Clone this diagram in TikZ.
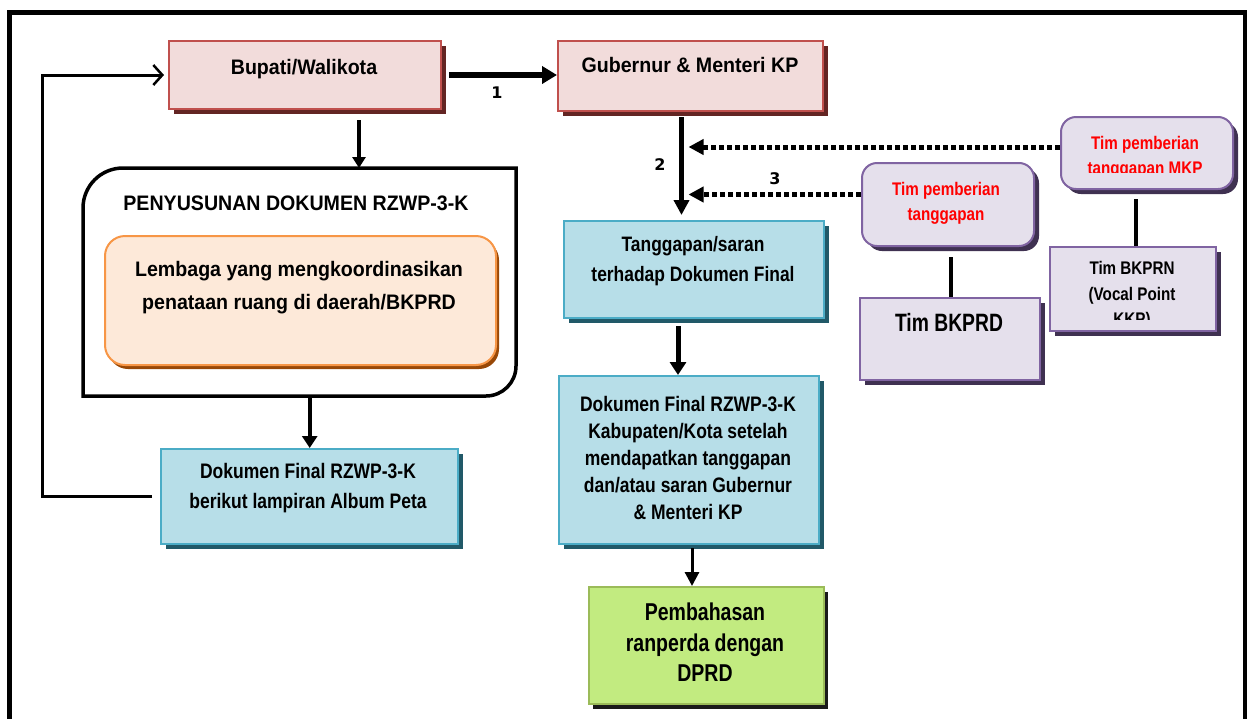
\documentclass[tikz,border=0pt]{standalone}
\usepackage{fontspec}
\setmainfont{Liberation Sans}
\newfontfamily\numfont{DejaVu Sans}
\usepackage{graphicx}
\usetikzlibrary{shadows,arrows.meta}
\definecolor{pinkF}{HTML}{F2DCDB}
\definecolor{pinkD}{HTML}{C0504D}
\definecolor{pinkS}{HTML}{632523}
\definecolor{cyanF}{HTML}{B7DEE8}
\definecolor{cyanD}{HTML}{4BACC6}
\definecolor{cyanS}{HTML}{215968}
\definecolor{oraF}{HTML}{FDE9D9}
\definecolor{oraD}{HTML}{F79646}
\definecolor{oraS}{HTML}{984807}
\definecolor{purF}{HTML}{E5E0EC}
\definecolor{purD}{HTML}{8064A2}
\definecolor{purS}{HTML}{3F3151}
\definecolor{grnF}{HTML}{C2EB80}
\definecolor{grnD}{HTML}{9BBB59}
\definecolor{grnS}{HTML}{1A1A1A}
\definecolor{redT}{HTML}{FF0000}
\newcommand\vtxt[4]{{\fontsize{#1}{#2}\selectfont\bfseries\scalebox{1}[#3]{\begin{tabular}{@{}c@{}}#4\end{tabular}}}}
\tikzset{
  box/.style={draw, line width=2pt, inner sep=0pt, anchor=north west},
  pinkbox/.style={box, fill=pinkF, draw=pinkD, drop shadow={shadow xshift=5pt, shadow yshift=-5pt, fill=pinkS, opacity=1}},
  cyanbox/.style={box, fill=cyanF, draw=cyanD, drop shadow={shadow xshift=5pt, shadow yshift=-5pt, fill=cyanS, opacity=1}},
  orabox/.style={box, rounded corners=20pt, fill=oraF, draw=oraD, drop shadow={shadow xshift=3pt, shadow yshift=-4pt, fill=oraS, opacity=1}},
  purbox/.style={box, fill=purF, draw=purD, drop shadow={shadow xshift=5pt, shadow yshift=-5pt, fill=purS, opacity=1}},
  purrbox/.style={purbox, rounded corners=15pt},
  grnbox/.style={box, fill=grnF, draw=grnD, drop shadow={shadow xshift=4pt, shadow yshift=-5pt, fill=grnS, opacity=1}},
  txt/.style={inner sep=0pt, anchor=center},
  numlbl/.style={inner sep=0pt, font=\numfont\bfseries\fontsize{16}{19}\selectfont},
  dotline/.style={line width=5pt, dash pattern=on 5pt off 3pt, -{Triangle[length=15pt,width=15pt]}}
}
\begin{document}
\begin{tikzpicture}[x=1pt,y=-1pt]
\useasboundingbox (0,0) rectangle (1248,718);
% outer frame
\draw[line width=5pt] (9.5,730) -- (9.5,12.5) -- (1245,12.5);
\draw[line width=3.5pt] (1245,10) -- (1245,730);

% top boxes
\node[pinkbox, minimum width=272pt, minimum height=68pt] (bup) at (168,40) {};
\node[txt] (bupT) at (304,69) {\vtxt{19.6}{24}{1.07}{Bupati/Walikota}};
\node[pinkbox, minimum width=265pt, minimum height=70pt] (gub) at (557,40) {};
\node[txt] (gubT) at (690,67) {\vtxt{19.6}{24}{1.07}{Gubernur \& Menteri KP}};

% penyusunan container
\node[inner sep=0pt, minimum width=433pt, minimum height=228pt, anchor=north west] (pen) at (83,168) {};
\draw[line width=3.5pt] (83,396) -- (83,208) arc[start angle=180,end angle=270,radius=40] -- (516,168) -- (516,366) arc[start angle=0,end angle=90,radius=30] -- cycle;
\node[txt] (penT) at (296,205) {\vtxt{19.6}{24}{1.07}{PENYUSUNAN DOKUMEN RZWP-3-K}};
\node[orabox, minimum width=391pt, minimum height=129pt] (lem) at (104,235) {};
\node[txt] (lemT) at (299,286) {\vtxt{19.6}{30.8}{1.07}{Lembaga yang mengkoordinasikan\\penataan ruang di daerah/BKPRD}};

% left final document
\node[cyanbox, minimum width=297pt, minimum height=95pt] (dfl) at (160,448) {};
\node[txt] (dflT) at (308,487) {\vtxt{17.5}{25}{1.2}{Dokumen Final RZWP-3-K\\berikut lampiran Album Peta}};

% middle column
\node[cyanbox, minimum width=260pt, minimum height=97pt] (tan) at (563,220) {};
\node[txt] (tanT) at (693,260) {\vtxt{17.4}{25}{1.2}{Tanggapan/saran\\terhadap Dokumen Final}};
\node[cyanbox, minimum width=260pt, minimum height=168pt] (dkk) at (558,375) {};
\node[txt] (dkkT) at (688,460) {\vtxt{17.5}{22.6}{1.2}{Dokumen Final RZWP-3-K\\Kabupaten/Kota setelah\\mendapatkan tanggapan\\dan/atau saran Gubernur\\\& Menteri KP}};
\node[grnbox, minimum width=235pt, minimum height=117pt] (pem) at (588,586) {};
\node[txt] (pemT) at (705,645) {\vtxt{19.5}{24.4}{1.25}{Pembahasan\\ranperda dengan\\DPRD}};

% right purple boxes
\node[purrbox, minimum width=172pt, minimum height=83pt] (tpl) at (861,162) {};
\node[txt, text=redT] (tplT) at (946,203) {\vtxt{15.2}{21}{1.2}{Tim pemberian\\tanggapan}};
\node[purrbox, minimum width=172pt, minimum height=72pt] (mkp) at (1060,116) {};
\begin{scope}
\clip (1060,116) rectangle (1232,172);
\node[txt, text=redT] (mkpT) at (1145,157) {\vtxt{15.2}{21}{1.2}{Tim pemberian\\tanggapan MKP}};
\end{scope}
\node[purbox, minimum width=180pt, minimum height=82pt] (bkd) at (859,297) {};
\node[txt] (bkdT) at (949,325) {\vtxt{19.3}{24}{1.3}{Tim BKPRD}};
\node[purbox, minimum width=166pt, minimum height=84pt] (bkn) at (1049,246) {};
\begin{scope}
\clip (1049,246) rectangle (1215,319);
\node[txt] (bknT) at (1132,295) {\vtxt{15.2}{21}{1.2}{Tim BKPRN\\(Vocal Point\\KKP)}};
\end{scope}

% connectors
\draw[line width=6pt, -{Triangle[length=15pt,width=17pt]}] ([xshift=7pt]bup.east) -- (bup.east -| gub.west);
\node[numlbl] (n1) at (497,93) {1};
\draw[line width=3.5pt, -{Triangle[length=11pt,width=13pt]}] ([xshift=54pt,yshift=-10pt]bup.south) -- ([xshift=54pt]bup.south |- pen.north);
\draw[line width=4pt, -{Triangle[length=12pt,width=15pt]}] ([xshift=10pt]pen.south) -- ([xshift=10pt]pen.south |- dfl.north);
\draw[line width=3pt, -{Straight Barb[length=9pt,width=20pt,line width=2.5pt]}] ([xshift=-8pt]dfl.west) -- ([xshift=-118pt]dfl.west) |- ([xshift=-4pt]bup.west);

\coordinate (a2) at ([xshift=-2pt]gub.south);
\draw[line width=5pt, -{Triangle[length=15pt,width=15pt]}] ([xshift=-9pt,yshift=-5pt]gub.south) -- ([xshift=-9pt,yshift=5pt]gub.south |- tan.north);
\node[numlbl] (n2) at (660,165) {2};
\draw[dotline] ([yshift=6pt]mkp.west) -- ([yshift=6pt]mkp.west -| a2);
\draw[dotline] ([yshift=10pt]tpl.west) -- ([yshift=10pt]tpl.west -| a2);
\node[numlbl] (n3) at (775,179) {3};
\draw[line width=5pt, -{Triangle[length=13pt,width=16pt]}] ([xshift=-16pt,yshift=-7pt]tan.south) -- ([xshift=-16pt]tan.south |- dkk.north);
\draw[line width=3pt, -{Triangle[length=14pt,width=14pt]}] ([xshift=3pt,yshift=-3pt]dkk.south) -- ([xshift=3pt]dkk.south |- pem.north);

\draw[line width=4pt] ([xshift=3pt,yshift=-10pt]tpl.south) -- ([xshift=3pt]tpl.south |- bkd.north);
\draw[line width=4pt] ([xshift=-11pt,yshift=-9pt]mkp.south) -- ([xshift=-11pt]mkp.south |- bkn.north);
\end{tikzpicture}
\end{document}
